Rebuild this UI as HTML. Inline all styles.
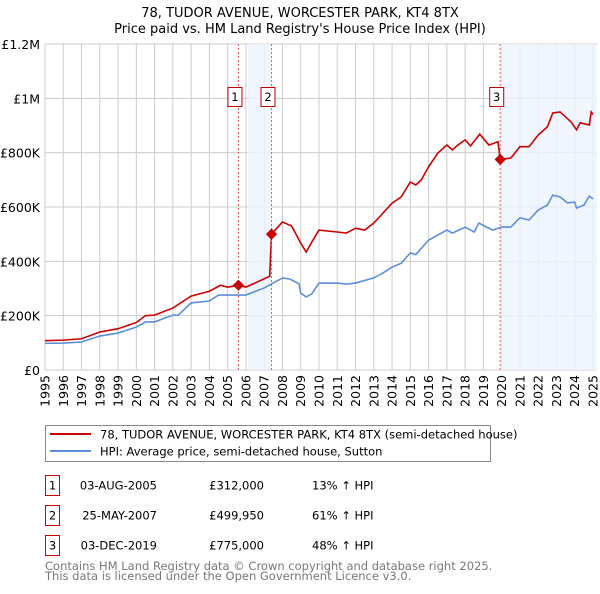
<!DOCTYPE html>
<html><head><meta charset="utf-8"><style>
body{margin:0;background:#fff;font-family:"DejaVu Sans","Liberation Sans",sans-serif}
svg text{font-family:"DejaVu Sans","Liberation Sans",sans-serif}
</style></head><body>
<svg id="chart" width="600" height="590" xmlns="http://www.w3.org/2000/svg">
<text x="300" y="17" text-anchor="middle" font-size="13">78, TUDOR AVENUE, WORCESTER PARK, KT4 8TX</text>
<text x="300" y="33" text-anchor="middle" font-size="13">Price paid vs. HM Land Registry's House Price Index (HPI)</text>
<g id="grid"></g><g id="shade"></g><g id="series"></g><g id="marks"></g><g id="axes"></g>
<g>
<rect x="45.5" y="425.5" width="445" height="36" fill="#fff" stroke="#888"/>
<line x1="50" y1="434" x2="91" y2="434" stroke="#cc0000" stroke-width="2"/>
<text x="100" y="438.5" font-size="11.5">78, TUDOR AVENUE, WORCESTER PARK, KT4 8TX (semi-detached house)</text>
<line x1="50" y1="451" x2="91" y2="451" stroke="#5b8fd6" stroke-width="2"/>
<text x="100" y="455.5" font-size="11.5">HPI: Average price, semi-detached house, Sutton</text>
</g>
<g id="table" font-size="11.5"></g>
<text x="45" y="570" font-size="11.5" fill="#777">Contains HM Land Registry data © Crown copyright and database right 2025.</text>
<text x="45" y="580" font-size="11.5" fill="#777">This data is licensed under the Open Government Licence v3.0.</text>
</svg>
<script>
const hpiYears=[1995,1996,1997,1998,1999,2000,2000.5,2001,2002,2002.3,2003,2004,2004.5,2005,2006,2007,2008,2008.4,2008.9,2009,2009.3,2009.6,2010,2011,2011.5,2012,2013,2013.5,2014,2014.5,2015,2015.3,2016,2017,2017.3,2018,2018.5,2018.75,2019.5,2020,2020.5,2021,2021.5,2022,2022.5,2022.8,2023.2,2023.6,2024,2024.1,2024.5,2024.8,2025];
const hpiValues=[98,99,103,125,136,158,177,177,202,202,247,254,276,276,276,302,339,335,318,283,269,280,320,320,316,320,339,357,379,393,431,425,478,515,504,526,508,541,515,526,526,560,552,589,607,644,637,615,618,596,607,640,630];
const priceYears=[1995,1996,1997,1998,1999,2000,2000.5,2001,2002,2003,2004,2004.6,2005,2005.59,2006,2007.3,2007.4,2007.6,2008,2008.5,2009,2009.3,2009.6,2010,2011,2011.5,2012,2012.5,2013,2014,2014.5,2015,2015.3,2015.6,2016,2016.5,2017,2017.3,2017.6,2018,2018.3,2018.8,2019.3,2019.8,2019.92,2020.5,2021,2021.5,2022,2022.5,2022.8,2023.2,2023.8,2024.1,2024.3,2024.8,2024.9,2025];
const priceValues=[108,110,115,140,152,175,200,202,228,272,290,312,305,312,305,345,500,515,545,530,467,434,470,515,508,504,522,515,541,614,637,692,681,700,748,798,828,810,828,847,825,868,828,840,775,780,822,822,865,895,946,950,913,884,910,902,950,940];
const yTicks=[0,200,400,600,800,1000,1200];
const yTickLabels=["£0","£200K","£400K","£600K","£800K","£1M","£1.2M"];
const xTicks=[1995,1996,1997,1998,1999,2000,2001,2002,2003,2004,2005,2006,2007,2008,2009,2010,2011,2012,2013,2014,2015,2016,2017,2018,2019,2020,2021,2022,2023,2024,2025];
const saleYears=[2005.59,2007.4,2019.92];
const saleValues=[312,499.95,775];
const saleLabels=["1","2","3"];
const saleDates=["03-AUG-2005","25-MAY-2007","03-DEC-2019"];
const salePrices=["£312,000","£499,950","£775,000"];
const saleHpi=["13% ↑ HPI","61% ↑ HPI","48% ↑ HPI"];
const NS="http://www.w3.org/2000/svg";
const X0=45,X1=593,Y0=370,Y1=44;
const x=v=>X0+(v-1995)/30*(X1-X0);
const y=v=>Y0-v/1200*(Y0-Y1);
function mk(t,a,p){const e=document.createElementNS(NS,t);for(const k in a)e.setAttribute(k,a[k]);p.appendChild(e);return e;}
const grid=document.getElementById('grid'),axes=document.getElementById('axes');
yTicks.forEach((v,i)=>{
 const l=mk('line',{x1:X0,x2:X1+4,y1:y(v),y2:y(v),stroke:'#ccc'},grid);
 
 
 const t=mk('text',{x:40,y:y(v)+5,'text-anchor':'end','font-size':'12.5'},axes);
 t.textContent=yTickLabels[i];
 
 
});
xTicks.forEach(v=>{
 const l=mk('line',{x1:x(v),x2:x(v),y1:Y1,y2:Y0,stroke:'#ccc'},grid);
 
 
 const t=mk('text',{transform:`translate(${x(v)+4.5},${Y0+5}) rotate(-90)`,'text-anchor':'end','font-size':'12.5'},axes);
 t.textContent=v;
 
 
});
const sh=document.getElementById('shade');
const s1=mk('rect',{x:x(2006.1),y:Y1,width:x(saleYears[1])-x(2006.1),height:Y0-Y1,fill:'#eef3fc',opacity:0.8},sh);


const s2=mk('rect',{x:x(saleYears[2]),y:Y1,width:X1+4-x(saleYears[2]),height:Y0-Y1,fill:'#eef3fc',opacity:0.8},sh);


const ser=document.getElementById('series');
const hp=mk('polyline',{points:hpiYears.map((v,i)=>x(v)+','+y(hpiValues[i])).join(' '),fill:'none',stroke:'#5b8fd6','stroke-width':1.6},ser);


const pp=mk('polyline',{points:priceYears.map((v,i)=>x(v)+','+y(priceValues[i])).join(' '),fill:'none',stroke:'#cc0000','stroke-width':1.6},ser);


const mg=document.getElementById('marks'),tb=document.getElementById('table');
saleYears.forEach((v,i)=>{
 const l=mk('line',{x1:x(v),x2:x(v),y1:Y1,y2:Y0,stroke:'#e06060','stroke-dasharray':'2,2'},mg);
 
 
 const d=mk('rect',{x:x(v)-4,y:y(saleValues[i])-4,width:8,height:8,fill:'#cc0000',transform:`rotate(45 ${x(v)} ${y(saleValues[i])})`},mg);
 
 
 const b=mk('rect',{x:x(v)-10.5,y:87.5,width:14,height:19,fill:'#fff',stroke:'#b00'},mg);
 
 
 const t=mk('text',{x:x(v)-3.5,y:101,'text-anchor':'middle','font-size':'11.5'},mg);
 t.textContent=saleLabels[i];
 const ry=475.5+i*30;
 const rb=mk('rect',{x:45.5,y:ry,width:14,height:20,fill:'#fff',stroke:'#cc0000'},tb);
 
 
 const n=mk('text',{x:52.5,y:ry+14,'text-anchor':'middle'},tb);n.textContent=saleLabels[i];
 const dt=mk('text',{x:157,y:ry+14,'text-anchor':'end'},tb);dt.textContent=saleDates[i];
 
 
 const pr=mk('text',{x:264,y:ry+14,'text-anchor':'end'},tb);pr.textContent=salePrices[i];
 
 
 const hh=mk('text',{x:312,y:ry+14},tb);hh.textContent=saleHpi[i];
 
 
});
</script>
</body></html>
